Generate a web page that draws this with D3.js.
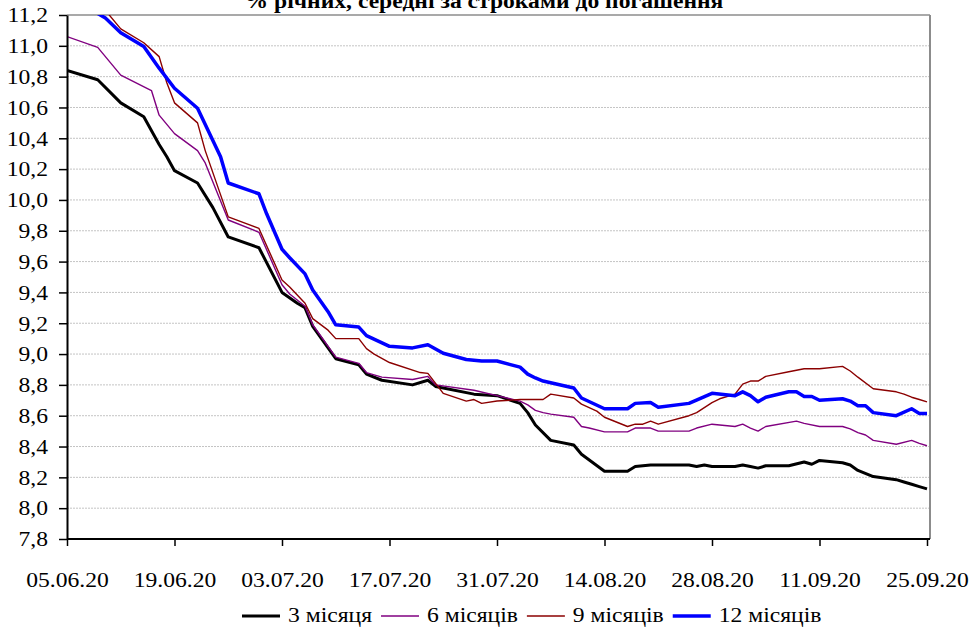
<!DOCTYPE html>
<html>
<head>
<meta charset="utf-8">
<script src="https://cdn.jsdelivr.net/npm/d3@7"></script>
<style>
  body { margin: 0; background: #fff; }
</style>
</head>
<body>
<div id="chart"></div>
<script>
"use strict";

// == data ==
var titleText = "% річних, середні за строками до погашення";

var dates3m = ["05.06.20","09.06.20","12.06.20","15.06.20","17.06.20","18.06.20","19.06.20","22.06.20","24.06.20","26.06.20","30.06.20","03.07.20","05.07.20","06.07.20","07.07.20","10.07.20","13.07.20","14.07.20","16.07.20","20.07.20","22.07.20","23.07.20","28.07.20","31.07.20","03.08.20","04.08.20","05.08.20","07.08.20","10.08.20","11.08.20","14.08.20","17.08.20","18.08.20","20.08.20","25.08.20","26.08.20","27.08.20","28.08.20","31.08.20","01.09.20","02.09.20","03.09.20","04.09.20","07.09.20","09.09.20","10.09.20","11.09.20","14.09.20","15.09.20","16.09.20","18.09.20","21.09.20","22.09.20","23.09.20","24.09.20","25.09.20"];
var rate3m  = [10.84,10.78,10.63,10.54,10.36,10.28,10.19,10.11,9.95,9.76,9.69,9.40,9.33,9.30,9.18,8.97,8.93,8.87,8.83,8.80,8.83,8.79,8.74,8.73,8.68,8.62,8.54,8.44,8.41,8.35,8.24,8.24,8.27,8.28,8.28,8.27,8.28,8.27,8.27,8.28,8.27,8.26,8.275,8.275,8.30,8.285,8.31,8.295,8.28,8.245,8.205,8.185,8.17,8.155,8.14,8.125];

var dates6m = ["05.06.20","09.06.20","12.06.20","16.06.20","17.06.20","19.06.20","22.06.20","23.06.20","26.06.20","30.06.20","03.07.20","04.07.20","06.07.20","07.07.20","10.07.20","13.07.20","14.07.20","16.07.20","20.07.20","22.07.20","23.07.20","28.07.20","31.07.20","03.08.20","04.08.20","05.08.20","06.08.20","07.08.20","10.08.20","11.08.20","12.08.20","14.08.20","17.08.20","18.08.20","20.08.20","21.08.20","25.08.20","26.08.20","28.08.20","31.08.20","01.09.20","02.09.20","03.09.20","04.09.20","08.09.20","09.09.20","11.09.20","14.09.20","15.09.20","16.09.20","17.09.20","18.09.20","21.09.20","23.09.20","24.09.20","25.09.20"];
var rate6m  = [11.06,10.99,10.81,10.71,10.55,10.43,10.32,10.24,9.87,9.79,9.45,9.39,9.31,9.19,8.98,8.94,8.88,8.85,8.835,8.855,8.80,8.765,8.73,8.695,8.67,8.635,8.62,8.61,8.59,8.53,8.52,8.495,8.495,8.52,8.52,8.50,8.50,8.52,8.545,8.53,8.545,8.52,8.50,8.53,8.565,8.55,8.53,8.53,8.515,8.49,8.475,8.44,8.415,8.44,8.42,8.405];

var dates9m = ["05.06.20","10.06.20","12.06.20","15.06.20","17.06.20","18.06.20","19.06.20","22.06.20","23.06.20","26.06.20","30.06.20","03.07.20","04.07.20","06.07.20","07.07.20","09.07.20","10.07.20","13.07.20","14.07.20","15.07.20","17.07.20","21.07.20","22.07.20","24.07.20","27.07.20","28.07.20","29.07.20","31.07.20","03.08.20","06.08.20","07.08.20","10.08.20","11.08.20","13.08.20","14.08.20","17.08.20","18.08.20","19.08.20","20.08.20","21.08.20","25.08.20","26.08.20","28.08.20","29.08.20","31.08.20","01.09.20","02.09.20","03.09.20","04.09.20","07.09.20","09.09.20","11.09.20","14.09.20","15.09.20","16.09.20","18.09.20","21.09.20","22.09.20","23.09.20","24.09.20","25.09.20"];
var rate9m  = [11.42,11.23,11.11,11.02,10.93,10.76,10.63,10.50,10.32,9.89,9.815,9.48,9.435,9.33,9.23,9.155,9.10,9.10,9.035,9.00,8.945,8.88,8.875,8.745,8.695,8.705,8.68,8.695,8.705,8.705,8.74,8.715,8.675,8.63,8.59,8.53,8.545,8.545,8.565,8.545,8.60,8.62,8.685,8.71,8.74,8.805,8.825,8.825,8.855,8.885,8.905,8.905,8.92,8.89,8.85,8.775,8.755,8.74,8.72,8.705,8.69];

var dates12m = ["05.06.20","09.06.20","10.06.20","12.06.20","15.06.20","17.06.20","19.06.20","22.06.20","25.06.20","26.06.20","30.06.20","01.07.20","03.07.20","04.07.20","06.07.20","07.07.20","09.07.20","10.07.20","13.07.20","14.07.20","17.07.20","20.07.20","22.07.20","24.07.20","27.07.20","29.07.20","31.07.20","03.08.20","04.08.20","05.08.20","06.08.20","10.08.20","11.08.20","14.08.20","17.08.20","18.08.20","20.08.20","21.08.20","25.08.20","28.08.20","31.08.20","01.09.20","02.09.20","03.09.20","04.09.20","07.09.20","08.09.20","09.09.20","10.09.20","11.09.20","14.09.20","15.09.20","16.09.20","17.09.20","18.09.20","21.09.20","23.09.20","24.09.20","25.09.20"];
var rate12m  = [11.34,11.21,11.18,11.085,10.995,10.855,10.725,10.595,10.28,10.11,10.04,9.91,9.68,9.625,9.52,9.415,9.275,9.19,9.175,9.12,9.05,9.04,9.06,9.005,8.965,8.955,8.955,8.915,8.87,8.845,8.825,8.78,8.715,8.645,8.645,8.68,8.685,8.655,8.68,8.745,8.73,8.755,8.73,8.69,8.72,8.755,8.755,8.725,8.725,8.70,8.71,8.695,8.665,8.665,8.62,8.60,8.645,8.615,8.615];

var seriesNames  = ["3 місяця","6 місяців","9 місяців","12 місяців"];
var seriesColors = ["#000000","#800080","#8b0000","#0000ff"];
var seriesWidths = [3, 1.4, 1.4, 3.5];

var xTickLabels = ["05.06.20","19.06.20","03.07.20","17.07.20","31.07.20","14.08.20","28.08.20","11.09.20","25.09.20"];
var yTicks = [7.8,8.0,8.2,8.4,8.6,8.8,9.0,9.2,9.4,9.6,9.8,10.0,10.2,10.4,10.6,10.8,11.0,11.2];

// == chart ==
var margin = { top: 15, right: 39, bottom: 92, left: 67 },
    width = 969 - margin.left - margin.right,
    height = 631 - margin.top - margin.bottom;
var sx = 1.18; // the original lettering is a bit wider than Liberation Serif
var serif = "'Liberation Serif'";

var parseDate = d3.timeParse("%d.%m.%y");

var svg = d3.select("#chart")
            .append("svg")
            .attr("width", 969)
            .attr("height", 631)
            .attr("font-family", "Liberation Serif");

var g = svg.append("g")
           .attr("transform", "translate(" + margin.left + "," + margin.top + ")");

var x = d3.scaleTime()
    .domain([parseDate("05.06.20"), parseDate("25.09.20")])
    .range([0, width - 3]);

var y = d3.scaleLinear()
    .domain([7.8, 11.2])
    .range([height, 0]);

// widen a text without a transform
function stretch(sel) {
  sel.each(function() {
    var w = this.getComputedTextLength();
    d3.select(this).attr("textLength", w * sx).attr("lengthAdjust", "spacingAndGlyphs");
  });
}

// gridlines
g.append("g")
    .selectAll("line")
    .data(yTicks.filter(function(d) { return d > 7.8 && d < 11.2; }))
    .enter().append("line")
    .attr("x1", 0)
    .attr("x2", width)
    .attr("y1", function(d) { return y(d); })
    .attr("y2", function(d) { return y(d); })
    .style("stroke", "#c4c4c4")
    .style("stroke-width", 1)
    .style("stroke-dasharray", "2,1");

// frame top / right
g.append("line")
    .attr("x1", 0).attr("x2", width)
    .attr("y1", y(11.2)).attr("y2", y(11.2))
    .style("stroke", "#8c8c8c").style("stroke-width", 1.5);
g.append("line")
    .attr("x1", width).attr("x2", width)
    .attr("y1", 0).attr("y2", height)
    .style("stroke", "#8c8c8c").style("stroke-width", 2);

// lines
svg.append("defs").append("clipPath")
    .attr("id", "plotclip")
  .append("rect")
    .attr("x", 0).attr("y", 0)
    .attr("width", width).attr("height", height);

var allDates = [dates3m, dates6m, dates9m, dates12m];
var allRates = [rate3m, rate6m, rate9m, rate12m];

var line = d3.line()
    .x(function(d) { return x(d.date); })
    .y(function(d) { return y(d.value); });

var lines = g.append("g").attr("clip-path", "url(#plotclip)");
allDates.forEach(function(ds, i) {
  var pts = ds.map(function(d, j) { return { date: parseDate(d), value: allRates[i][j] }; });
  lines.append("path")
      .datum(pts)
      .attr("d", line)
      .style("fill", "none")
      .style("stroke", seriesColors[i])
      .style("stroke-width", seriesWidths[i])
      .style("stroke-linejoin", "round");
});

// y axis
var fmt = d3.format(".1f");
var yAxis = g.append("g")
    .call(d3.axisLeft(y).tickValues(yTicks).tickSize(8).tickSizeOuter(0)
          .tickFormat(function(d) { return fmt(d).replace(".", ","); }));
yAxis.attr("font-family", null).attr("font-size", null);
yAxis.select(".domain").style("stroke", "#000").style("stroke-width", 2);
yAxis.selectAll(".tick line").style("stroke", "#000").style("stroke-width", 1.5);
yAxis.selectAll("text")
    .attr("x", -19)
    .attr("dy", "0.34em")
    .style("font-family", serif)
    .style("font-size", "20px")
    .style("fill", "#000")
    .call(stretch);

// x axis
var xAxis = g.append("g")
    .attr("transform", "translate(0," + height + ")")
    .call(d3.axisBottom(x).tickValues(xTickLabels.map(parseDate)).tickSize(7).tickSizeOuter(0)
          .tickFormat(d3.timeFormat("%d.%m.%y")));
xAxis.attr("font-family", null).attr("font-size", null);
xAxis.select(".domain").attr("d", "M0,0H" + width).style("stroke", "#000").style("stroke-width", 2);
xAxis.selectAll(".tick line").style("stroke", "#000").style("stroke-width", 1.5);
xAxis.selectAll("text")
    .attr("y", 48)
    .attr("dy", 0)
    .style("font-family", serif)
    .style("font-size", "20px")
    .style("fill", "#000")
    .call(stretch);

// title (mostly cut off at the top edge, as in the original)
svg.append("text")
    .attr("x", 484)
    .attr("y", 8)
    .attr("text-anchor", "middle")
    .style("font-family", serif)
    .style("font-size", "20px")
    .style("font-weight", "bold")
    .text(titleText)
    .call(stretch);

// legend
var legend = svg.append("g").attr("transform", "translate(242,616)");
var lx = 0;
seriesNames.forEach(function(name, i) {
  legend.append("line")
      .attr("x1", lx).attr("x2", lx + 38)
      .attr("y1", 0).attr("y2", 0)
      .style("stroke", seriesColors[i])
      .style("stroke-width", seriesWidths[i]);
  var t = legend.append("text")
      .attr("x", lx + 46)
      .attr("y", 6)
      .style("font-family", serif)
      .style("font-size", "20px")
      .text(name);
  var w = t.node().getComputedTextLength() * sx;
  t.attr("textLength", w).attr("lengthAdjust", "spacingAndGlyphs");
  lx += 46 + w + 9;
});
</script>
</body>
</html>
